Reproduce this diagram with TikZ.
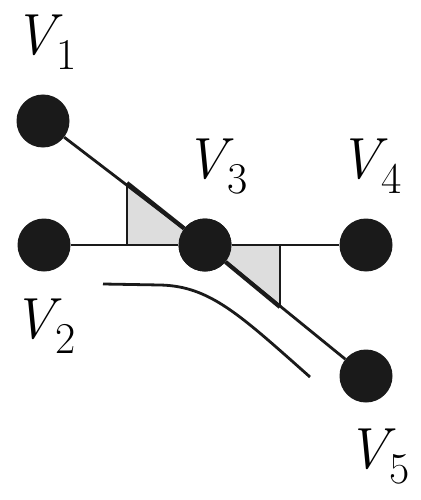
\documentclass[tikz,border=0pt]{standalone}
\usepackage{fontspec}
\newcommand{\vlab}[1]{{\itshape V}\kern1pt\raisebox{-15pt}{\fontsize{44}{46}\selectfont #1}}
\begin{document}
\begin{tikzpicture}[x=1pt,y=-1pt,
  vertex/.style={circle,fill=ink,draw=none,minimum size=53pt,inner sep=0pt},
  lbl/.style={anchor=base,inner sep=0pt,font=\fontsize{58}{60}\selectfont},
  thinline/.style={draw=ink,line width=2.8pt},
  thickline/.style={draw=ink,line width=4.2pt},
  shade/.style={fill=lightshade,draw=none}]
\definecolor{ink}{RGB}{26,26,26}
\definecolor{lightshade}{RGB}{221,221,221}
\useasboundingbox (0,0) rectangle (420,500);
% vertices
\node[vertex] (v1) at (43,121) {};
\node[vertex] (v2) at (44,245) {};
\node[vertex] (v3) at (205,245) {};
\node[vertex] (v4) at (366,245) {};
\node[vertex] (v5) at (366,376) {};
% triangle corners
\coordinate (a1) at (127,183);
\coordinate (a2) at (127,245);
\coordinate (b1) at (280,245);
\coordinate (b2) at (280,307);
% shaded triangles
\path[shade] (a1) -- (a2) -- (v3.center) -- cycle;
\path[shade] (v3.center) -- (b1) -- (b2) -- cycle;
% edges
\draw[thinline] (v1) -- (v3);
\draw[thinline] (v3) -- (v5);
\draw[thinline] (v2) -- (v3);
\draw[thinline] (v3) -- (v4);
\draw[thinline] (a1) -- (a2);
\draw[thinline] (b1) -- (b2);
\draw[thickline] (a1) -- (v3);
\draw[thickline] (v3) -- (b2);
% curve
\coordinate (c0) at (103,284);
\coordinate (c1) at (160,285);
\coordinate (c2) at (310,377);
\draw[thinline] (c0) -- (c1) .. controls (210,286) and (240,315) .. (c2);
% vertices on top
\node[vertex] at (v3) {};
% labels
\node[lbl] (l1) at (45,55) {\vlab{1}};
\node[lbl] (l2) at (44,338) {\vlab{2}};
\node[lbl] (l3) at (216,178) {\vlab{3}};
\node[lbl] (l4) at (370,178) {\vlab{4}};
\node[lbl] (l5) at (378,468) {\vlab{5}};
\end{tikzpicture}
\end{document}
